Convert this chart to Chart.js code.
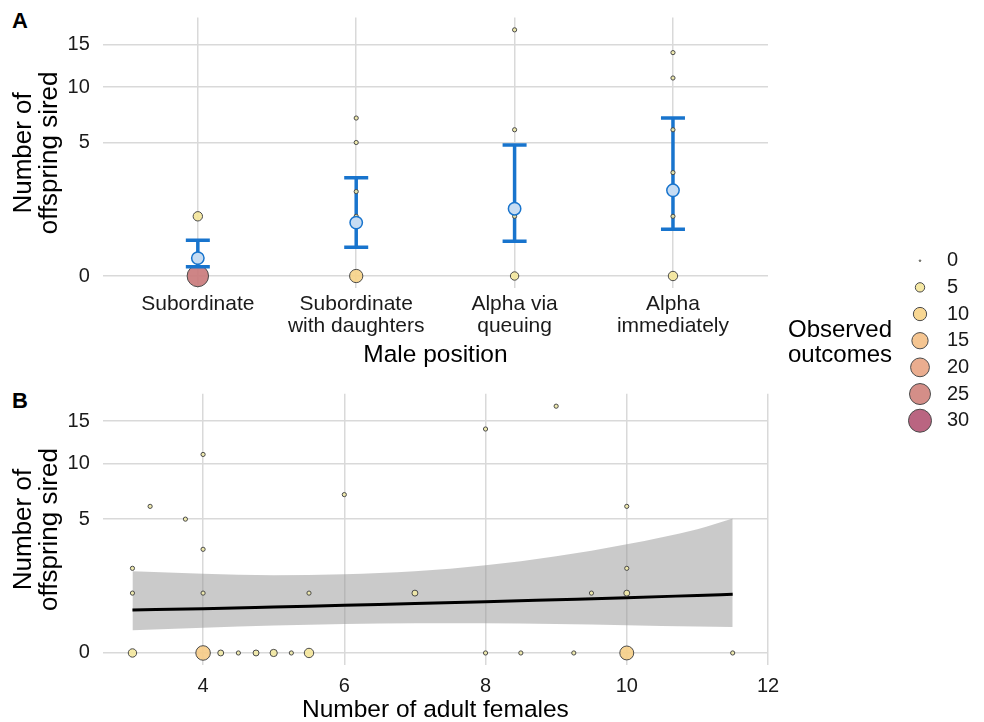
<!DOCTYPE html>
<html>
<head>
<meta charset="utf-8">
<script src="https://cdn.jsdelivr.net/npm/chart.js@4.4.0/dist/chart.umd.min.js"></script>
<style>
  body { margin: 0; background: #fff; width: 984px; height: 722px; overflow: hidden; position: relative;
         font-family: "Liberation Sans", Arial, sans-serif; }
  canvas { position: absolute; }
  #chartA { left: 0; top: 0; }
  #chartB { left: 0; top: 372px; }
  #legend { left: 890px; top: 240px; }
  .tag { position: absolute; left: 12px; font-weight: bold; font-size: 22px; color: #000; }
  #legTitle { position: absolute; left: 788px; top: 316px; font-size: 24px; line-height: 25px; color: #000; }
</style>
</head>
<body>
<div class="tag" style="top:8px">A</div>
<div class="tag" style="top:388px">B</div>
<canvas id="chartA" width="784" height="375"></canvas>
<canvas id="chartB" width="784" height="350"></canvas>
<canvas id="legend" width="94" height="200"></canvas>
<div id="legTitle">Observed<br>outcomes</div>
<script>
// ---- data ----
const positions = [['Subordinate'], ['Subordinate', 'with daughters'], ['Alpha via', 'queuing'], ['Alpha', 'immediately']];

// panel A: observed outcomes per male position (how many males had each count)
const obsPosition  = [1, 1, 2, 2, 2, 2, 2, 3, 3, 3, 3, 4, 4, 4, 4, 4, 4, 4];
const obsOffspring = [0, 1, 0, 1, 2, 5, 7, 0, 1, 6, 17, 0, 1, 2, 3, 6, 11, 14];
const obsCount     = [26, 5, 10, 1, 1, 1, 1, 4, 1, 1, 1, 5, 1, 1, 1, 1, 1, 1];

// panel A: model estimates with 95% CI
const estMean = [0.09, 0.80, 1.27, 2.06];
const estLow  = [0.024, 0.23, 0.34, 0.61];
const estHigh = [0.36, 2.71, 4.82, 7.0];

// panel B: offspring vs number of adult females
const femX     = [3, 3, 3, 3.25, 3.75, 4, 4, 4, 4, 4.25, 4.5, 4.75, 5, 5.25, 5.5, 5.5, 6, 7, 8, 8, 8.5, 9, 9.25, 9.5, 10, 10, 10, 10, 11.5];
const femY     = [0, 1, 2, 6, 5, 0, 1, 3, 11, 0, 0, 0, 0, 0, 0, 1, 7, 1, 0, 14, 0, 17, 0, 1, 0, 1, 2, 6, 0];
const femCount = [4, 1, 1, 1, 1, 12, 1, 1, 1, 2, 1, 2, 3, 1, 5, 1, 1, 2, 1, 1, 1, 1, 1, 1, 11, 2, 1, 1, 1];

// panel B: fitted trend and confidence band
const fitX    = [3, 4, 5, 6, 7, 8, 9, 10, 11, 11.5];
const fitMid  = [0.517, 0.546, 0.589, 0.636, 0.682, 0.733, 0.791, 0.852, 0.925, 0.963];
const fitLow  = [0.144, 0.178, 0.210, 0.234, 0.247, 0.247, 0.234, 0.215, 0.196, 0.189];
const fitHigh = [1.866, 1.754, 1.688, 1.732, 1.866, 2.151, 2.615, 3.304, 4.28, 5.05];

const yTicks = [0, 5, 10, 15];
const femTicks = [4, 6, 8, 10, 12];
const legendValues = [0, 5, 10, 15, 20, 25, 30];

// ---- styling helpers ----
const BLUE = '#1874CD';
const GRID = '#d9d9d9';
const stops = [[0, [238, 234, 172]], [5, [244, 230, 156]], [10, [247, 212, 138]], [15, [244, 192, 136]],
               [20, [232, 166, 134]], [25, [208, 132, 126]], [30, [180, 88, 118]]];
function fillFor(n) {
  let i = 0;
  while (i < stops.length - 2 && n > stops[i + 1][0]) i++;
  const [a, ca] = stops[i], [b, cb] = stops[i + 1];
  const t = Math.min(1, Math.max(0, (n - a) / (b - a)));
  const c = ca.map((v, k) => Math.round(v + (cb[k] - v) * t));
  return `rgba(${c[0]},${c[1]},${c[2]},0.92)`;
}
function radiusFor(n) { return Math.max(2.1 * Math.sqrt(n), 0.8); }
const sq = v => Math.sqrt(v);
// drop the extra room chart.js keeps for edge tick labels
function noPad(s) { s.paddingTop = 0; s.paddingBottom = 0; s.paddingLeft = 0; s.paddingRight = 0; }

Chart.defaults.font.family = '"Liberation Sans", Arial, sans-serif';
Chart.defaults.color = '#1a1a1a';

const pointStyle = {
  backgroundColor: c => fillFor(c.raw.n),
  pointRadius: c => radiusFor(c.raw.n),
  borderColor: '#4a4a4a',
  borderWidth: 1,
  clip: false
};

function yScale() {
  return {
    type: 'linear', min: -0.206, max: 4.33,
    afterBuildTicks: s => { s.ticks = yTicks.map(v => ({ value: sq(v) })); },
    ticks: { callback: v => Math.round(v * v), font: { size: 20 }, padding: 13 },
    grid: { color: GRID, lineWidth: 1.5, drawTicks: false },
    border: { display: false },
    title: { display: true, text: ['Number of', 'offspring sired'], color: '#000',
             font: { size: 26, lineHeight: '26px' }, padding: { top: 11, bottom: 0 } },
    afterFit: s => { s.width = 102.8; noPad(s); }
  };
}

// ---- panel A ----
const obsA = obsPosition.map((p, i) => ({ x: p, y: sq(obsOffspring[i]), n: obsCount[i] }));
const barLines = [];
estLow.forEach((lo, i) => {
  barLines.push({ x: i + 1, y: sq(lo) }, { x: i + 1, y: sq(estHigh[i]) }, { x: i + 1, y: null });
});
const caps = estLow.map((lo, i) => ({ x: i + 1, y: sq(lo) }))
  .concat(estHigh.map((hi, i) => ({ x: i + 1, y: sq(hi) })));

new Chart(document.getElementById('chartA'), {
  data: {
    datasets: [
      Object.assign({ type: 'scatter', data: obsA.filter(d => d.n >= 3), order: 5 }, pointStyle),
      { type: 'line', data: barLines, borderColor: BLUE, borderWidth: 3.5, pointRadius: 0, spanGaps: false, order: 4 },
      { type: 'scatter', data: caps, pointStyle: 'line', pointRadius: 12, borderColor: BLUE, borderWidth: 3.5, order: 3 },
      Object.assign({ type: 'scatter', data: obsA.filter(d => d.n < 3), order: 2 }, pointStyle),
      { type: 'scatter', data: estMean.map((m, i) => ({ x: i + 1, y: sq(m) })), pointRadius: 6.2,
        backgroundColor: '#c6dcf3', borderColor: BLUE, borderWidth: 1.5, order: 1 }
    ]
  },
  options: {
    responsive: false, animation: false,
    layout: { autoPadding: false, padding: { top: 17.5, right: 16, left: 0, bottom: 0 } },
    plugins: { legend: { display: false }, tooltip: { enabled: false } },
    scales: {
      x: {
        type: 'linear', min: 0.4, max: 4.6,
        afterBuildTicks: s => { s.ticks = positions.map((p, i) => ({ value: i + 1 })); },
        ticks: { callback: v => positions[v - 1], font: { size: 21, lineHeight: '22px' }, padding: 5,
                 maxRotation: 0, autoSkip: false },
        grid: { color: GRID, lineWidth: 1.5, drawTicks: false },
        border: { display: false },
        title: { display: true, text: 'Male position', color: '#000', font: { size: 24.5, lineHeight: 1.2 },
                 padding: { top: 0, bottom: 5 } },
        afterFit: s => { s.height = 86.7; noPad(s); }
      },
      y: yScale()
    }
  }
});

// ---- panel B ----
new Chart(document.getElementById('chartB'), {
  data: {
    datasets: [
      { type: 'line', data: fitX.map((x, i) => ({ x, y: sq(fitHigh[i]) })), fill: '+1',
        backgroundColor: 'rgba(150,150,150,0.5)', borderWidth: 0, pointRadius: 0,
        cubicInterpolationMode: 'monotone', order: 4 },
      { type: 'line', data: fitX.map((x, i) => ({ x, y: sq(fitLow[i]) })), fill: false,
        borderWidth: 0, pointRadius: 0, cubicInterpolationMode: 'monotone', order: 4 },
      { type: 'line', data: fitX.map((x, i) => ({ x, y: sq(fitMid[i]) })), borderColor: '#000',
        borderWidth: 3, pointRadius: 0, cubicInterpolationMode: 'monotone', order: 3 },
      Object.assign({ type: 'scatter', data: femX.map((x, i) => ({ x, y: sq(femY[i]), n: femCount[i] })), order: 1 }, pointStyle)
    ]
  },
  options: {
    responsive: false, animation: false,
    layout: { autoPadding: false, padding: { top: 21.8, right: 16, left: 0, bottom: 0 } },
    plugins: { legend: { display: false }, tooltip: { enabled: false } },
    scales: {
      x: {
        type: 'linear', min: 2.58, max: 12,
        afterBuildTicks: s => { s.ticks = femTicks.map(v => ({ value: v })); },
        ticks: { font: { size: 20 }, padding: 9, maxRotation: 0, autoSkip: false },
        grid: { color: GRID, lineWidth: 1.5, drawTicks: false },
        border: { display: false },
        title: { display: true, text: 'Number of adult females', color: '#000', font: { size: 24.5, lineHeight: 1 },
                 padding: { top: 0, bottom: 0 } },
        afterFit: s => { s.height = 56.7; noPad(s); }
      },
      y: yScale()
    }
  }
});

// ---- size/colour key ----
new Chart(document.getElementById('legend'), {
  type: 'scatter',
  data: { datasets: [Object.assign({ data: legendValues.map((v, i) => ({ x: 0, y: i, n: v })) }, pointStyle)] },
  options: {
    responsive: false, animation: false,
    layout: { autoPadding: false, padding: { top: 4.7, bottom: 3.3, left: 6, right: 0 } },
    plugins: { legend: { display: false }, tooltip: { enabled: false } },
    scales: {
      x: { display: false, min: -1, max: 1 },
      y: {
        position: 'right', reverse: true, min: -0.6, max: 6.6,
        afterBuildTicks: s => { s.ticks = legendValues.map((v, i) => ({ value: i })); },
        ticks: { callback: i => legendValues[i], font: { size: 20 }, padding: 3 },
        grid: { display: false, drawTicks: false }, border: { display: false },
        afterFit: s => { s.width = 40; noPad(s); }
      }
    }
  }
});
</script>
</body>
</html>
